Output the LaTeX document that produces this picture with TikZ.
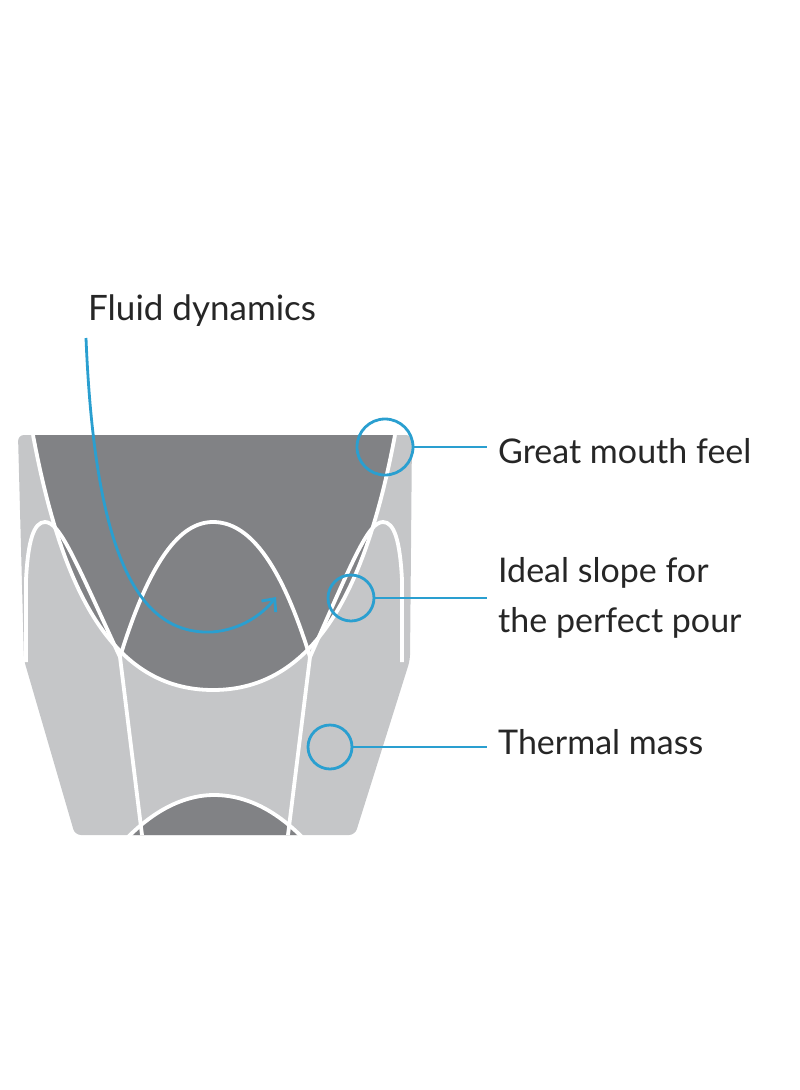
\documentclass[tikz,border=0pt]{standalone}
\usepackage{fontspec}
\setmainfont{Lato}
\usetikzlibrary{positioning,arrows.meta}
\definecolor{cuplight}{HTML}{C5C6C8}
\definecolor{cupdark}{HTML}{818285}
\definecolor{callblue}{HTML}{2A9FD0}
\begin{document}
\begin{tikzpicture}[x=1pt,y=-1pt,
edge/.style={draw=white, line width=3.8pt},
ring/.style={circle, draw=callblue, line width=2.8pt, inner sep=0pt},
lead/.style={draw=callblue, line width=2.8pt},
label/.style={anchor=west, align=left, font=\fontsize{34}{50}\selectfont, text=black!85, inner sep=0pt}
]
    \useasboundingbox (0,0) rectangle (800,1090);
    %Cup body
    \fill[cuplight, rounded corners=6pt]
        (18,435) -- (412,435) -- (410,660) -- (355,835) -- (75,835) -- (24,660) -- cycle;
    \fill[cupdark]
        (33,435) .. controls (62,590) and (112,690) .. (213,690)
        .. controls (314,690) and (366,590) .. (395,435) -- cycle;
    \fill[cupdark]
        (130,835) .. controls (160,805) and (190,795) .. (214,795)
        .. controls (240,795) and (270,805) .. (300,835) -- cycle;
    %White lines
    \draw[edge] (33,435) .. controls (62,590) and (112,690) .. (213,690)
        .. controls (314,690) and (366,590) .. (395,435);
    \draw[edge] (120,657) .. controls (150,560) and (180,522) .. (213,522)
        .. controls (248,522) and (280,560) .. (310,657);
    \draw[edge] (26,662) -- (26,580) .. controls (28,540) and (34,522) .. (45,522)
        .. controls (60,522) and (75,560) .. (120,657);
    \draw[edge] (402,662) -- (402,580) .. controls (400,540) and (394,522) .. (383,522)
        .. controls (368,522) and (353,560) .. (310,657);
    \draw[edge] (120,657) -- (142,835);
    \draw[edge] (310,657) -- (288,835);
    \draw[edge] (128,837) .. controls (160,805) and (190,795) .. (214,795)
        .. controls (240,795) and (270,805) .. (302,837);
    \fill[white] (60,836.5) rectangle (370,845);
    %Callouts
    \node[ring, minimum size=56pt] (mouth) at (385,447) {};
    \node[ring, minimum size=46pt] (slope) at (351,598) {};
    \node[ring, minimum size=44pt] (mass)  at (330,747) {};
    \node[label] (tmouth) at (498,451) {Great mouth feel};
    \node[label] (tslope) at (498,598) {Ideal slope for\\the perfect pour};
    \node[label] (tmass)  at (498,742) {Thermal mass};
    \node[label, font=\fontsize{35}{50}\selectfont] (tfluid) at (88,311) {Fluid dynamics};
    \draw[lead] (mouth.east) -- (487,447);
    \draw[lead] (slope.east) -- (487,598);
    \draw[lead] (mass.east) -- (487,747);
    \coordinate (swirl) at (276,597);
    \draw[lead, -{Straight Barb[length=10pt, width=18pt]}]
        (86,338) .. controls (95,560) and (140,635) .. (212,632)
        .. controls (240,630) and (262,615) .. (swirl);
\end{tikzpicture}
\end{document}
